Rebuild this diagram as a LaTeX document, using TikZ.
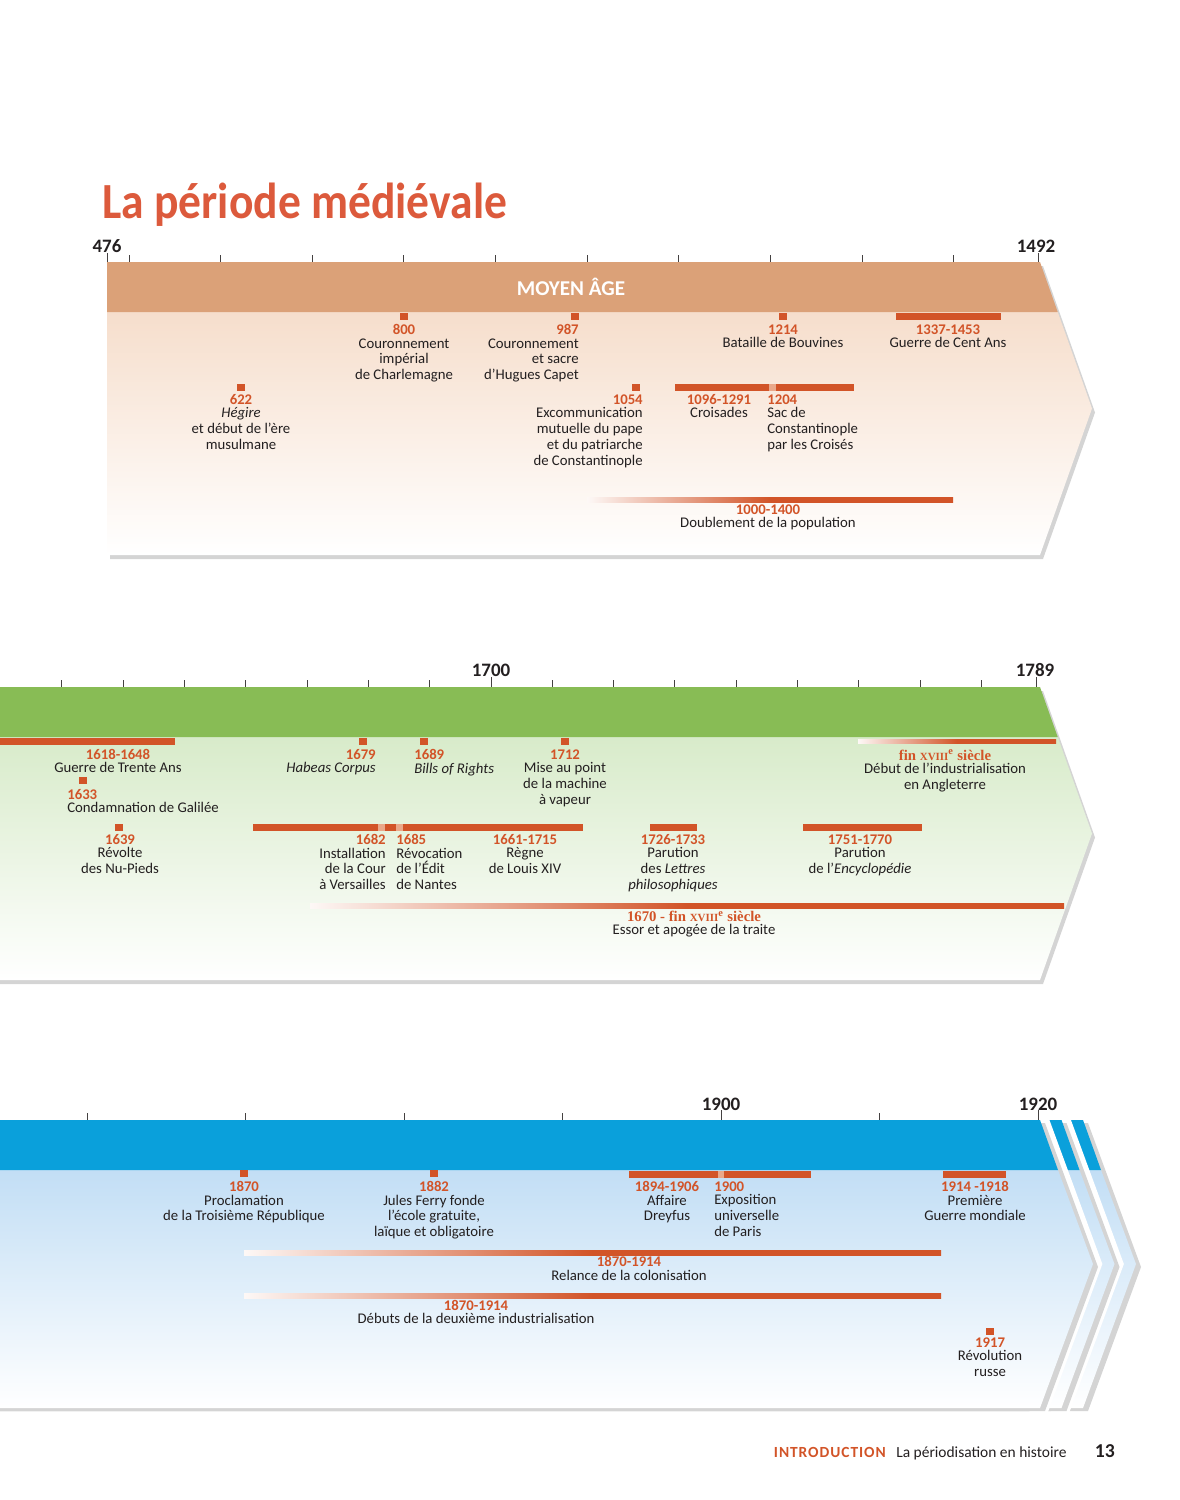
\documentclass[tikz,border=0pt]{standalone}
\usepackage{fontspec}
\setmainfont{Carlito}
\newfontfamily\titlefont{Carlito}[FakeStretch=0.9]
\newfontfamily\yrserif{Liberation Serif}
\usepackage{tikz}
\usetikzlibrary{shapes,arrows}

\definecolor{evorange}{RGB}{210,84,40}
\definecolor{evlight}{RGB}{234,168,138}
\colorlet{evfadelight}{evorange!4}
\definecolor{titleorange}{RGB}{220,90,60}
\definecolor{textblack}{RGB}{35,31,32}
\definecolor{medtan}{RGB}{219,161,120}
\definecolor{medbody}{RGB}{246,222,204}
\definecolor{modgreen}{RGB}{136,188,85}
\definecolor{modbody}{RGB}{216,235,202}
\definecolor{conblue}{RGB}{10,160,219}
\definecolor{conbody}{RGB}{194,222,245}

\pgfdeclarehorizontalshading{evfade}{100bp}{color(0bp)=(evfadelight); color(25bp)=(evfadelight); color(50bp)=(evorange); color(100bp)=(evorange)}

\tikzstyle{evmark} = [rectangle, fill=evorange, minimum size=5pt, inner sep=0pt]
\tikzstyle{evtext} = [inner sep=0pt, align=center, text=textblack, font=\fontsize{10.5}{11.3}\selectfont]
\tikzstyle{evfadebar} = [shading=evfade]
\tikzstyle{yrtick} = [draw=textblack!85, line width=0.6pt]
\tikzstyle{tickyr} = [inner sep=0pt, anchor=base, text=textblack, font=\fontsize{13.5}{14}\selectfont\bfseries]
\tikzstyle{shadow} = [fill=black!17]

\newcommand{\an}[1]{{\bfseries\color{evorange}#1}}
\newcommand{\anserif}[1]{{\yrserif\bfseries\color{evorange}#1}}
\newcommand{\xviii}{{\fontsize{7.8}{8}\selectfont XVIII}\textsuperscript{e}}

\begin{document}
\begin{tikzpicture}[x=0.025cm, y=-0.025cm]
	\useasboundingbox (0,0) rectangle (1179,1500);

	% title
	\node[anchor=base west, inner sep=0pt, text=titleorange, font=\titlefont\fontsize{36}{40}\selectfont\bfseries] (titre) at (102,218) {La période médiévale};

	% band 1: moyen age
	\fill[shadow] (110,266) -- (1043,266) -- (1095,412.5) -- (1043,559) -- (110,559) -- cycle;
	\shade[top color=medbody, bottom color=white] (107,312) -- (1057.7,312) -- (1092,408.5) -- (1040,555) -- (107,555) -- cycle;
	\fill[medtan] (107,262) -- (1040,262) -- (1057.7,312) -- (107,312) -- cycle;
	\node[text=white, font=\fontsize{15}{16}\selectfont\bfseries] (moyen) at (571,287) {MOYEN ÂGE};

	\foreach \y in {500,600,...,1400}
		\draw[yrtick] ({107+(\y-476)*0.9163},255) -- ++(0,7);
	\draw[yrtick] (107,253) -- (107,262);
	\draw[yrtick] (1038,253) -- (1038,262);
	\node[tickyr] (y476) at (107,252) {476};
	\node[tickyr] (y1492) at (1036,252) {1492};

	% events 1
	\node[evmark] (m800) at (404,316.5) {};
	\node[evtext, anchor=north] (t800) at (404,324.5) {\an{800}\\[-2pt]Couronnement\\impérial\\de Charlemagne};
	\node[evmark] (m987) at (575,316.5) {};
	\node[evtext, anchor=north east, align=right] (t987) at (579,324.5) {\an{987}\\[-2pt]Couronnement\\et sacre\\d’Hugues Capet};
	\node[evmark] (m1214) at (783,316.5) {};
	\node[evtext, anchor=north] (t1214) at (783,324.5) {\an{1214}\\[-2pt]Bataille de Bouvines};
	\fill[evorange] (896,313) rectangle (1001,319.5);
	\node[evtext, anchor=north] (t1337) at (948,324.5) {\an{1337-1453}\\[-2pt]Guerre de Cent Ans};

	\node[evmark] (m622) at (241,387.5) {};
	\node[evtext, anchor=north] (t622) at (241,394.5) {\an{622}\\[-2pt]\textit{Hégire}\\et début de l’ère\\musulmane};
	\node[evmark] (m1054) at (636,387.5) {};
	\node[evtext, anchor=north east, align=right] (t1054) at (643,394.5) {\an{1054}\\[-2pt]Excommunication\\mutuelle du pape\\et du patriarche\\de Constantinople};
	\fill[evorange] (675,384) rectangle (854,390.5);
	\fill[evlight] (769,384) rectangle (776,390.5);
	\node[evtext, anchor=north] (t1096) at (719,394.5) {\an{1096-1291}\\[-2pt]Croisades};
	\node[evtext, anchor=north west, align=left] (t1204) at (767,394.5) {\an{1204}\\[-2pt]Sac de\\Constantinople\\par les Croisés};

	\shade[evfadebar] (587,497.5) rectangle (953,502.5);
	\node[evtext, anchor=north] (t1000) at (768,504.5) {\an{1000-1400}\\[-2pt]Doublement de la population};

	% band 2: epoque moderne
	\fill[shadow] (0,691) -- (1043,691) -- (1095,837.5) -- (1043,984) -- (0,984) -- cycle;
	\shade[top color=modbody, bottom color=white] (0,737) -- (1057.7,737) -- (1092,833.5) -- (1040,980) -- (0,980) -- cycle;
	\fill[modgreen] (0,687) -- (1040,687) -- (1057.7,737) -- (0,737) -- cycle;

	\foreach \y in {1630,1640,...,1780}
		\draw[yrtick] ({491+(\y-1700)*6.13},680) -- ++(0,7);
	\draw[yrtick] (491,677) -- (491,687);
	\draw[yrtick] (1036,677) -- (1036,687);
	\node[tickyr] (y1700) at (491,676) {1700};
	\node[tickyr] (y1789) at (1035,676) {1789};

	% events 2
	\fill[evorange] (0,738) rectangle (175,744.5);
	\node[evtext, anchor=north] (t1618) at (118,749) {\an{1618-1648}\\[-2pt]Guerre de Trente Ans};
	\node[evmark] (m1633) at (83,780.5) {};
	\node[evtext, anchor=north west, align=left] (t1633) at (67,789.5) {\an{1633}\\[-2pt]Condamnation de Galilée};
	\node[evmark] (m1639) at (119,827.5) {};
	\node[evtext, anchor=north] (t1639) at (120,834.5) {\an{1639}\\[-2pt]Révolte\\des Nu-Pieds};
	\node[evmark] (m1679) at (363,741.5) {};
	\node[evtext, anchor=north east, align=right] (t1679) at (376,749.5) {\an{1679}\\[-2pt]\textit{Habeas Corpus}};
	\node[evmark] (m1689) at (424,741.5) {};
	\node[evtext, anchor=north west, align=left] (t1689) at (414,749.5) {\an{1689}\\[-2pt]\textit{Bills of Rights}};
	\node[evmark] (m1712) at (565,741.5) {};
	\node[evtext, anchor=north] (t1712) at (565,749.5) {\an{1712}\\[-2pt]Mise au point\\de la machine\\à vapeur};
	\shade[evfadebar] (858,739.5) rectangle (1056,743.5);
	\node[evtext, anchor=north] (t18e) at (945,749.5) {\anserif{fin \xviii\ siècle}\\[-2pt]Début de l’industrialisation\\en Angleterre};

	\fill[evorange] (253,824) rectangle (583,830.5);
	\fill[evlight] (378,824) rectangle (385,830.5);
	\fill[evlight] (396,824) rectangle (403,830.5);
	\node[evtext, anchor=north east, align=right] (t1682) at (386,834.5) {\an{1682}\\[-2pt]Installation\\de la Cour\\à Versailles};
	\node[evtext, anchor=north west, align=left] (t1685) at (396,834.5) {\an{1685}\\[-2pt]Révocation\\de l’Édit\\de Nantes};
	\node[evtext, anchor=north] (t1661) at (525,834.5) {\an{1661-1715}\\[-2pt]Règne\\de Louis XIV};
	\fill[evorange] (650,824) rectangle (697,830.5);
	\node[evtext, anchor=north] (t1726) at (673,834.5) {\an{1726-1733}\\[-2pt]Parution\\des \textit{Lettres}\\\textit{philosophiques}};
	\fill[evorange] (803,824) rectangle (922,830.5);
	\node[evtext, anchor=north] (t1751) at (860,834.5) {\an{1751-1770}\\[-2pt]Parution\\de l’\textit{Encyclopédie}};

	\shade[evfadebar] (310,903.5) rectangle (1064,908.5);
	\node[evtext, anchor=north] (t1670) at (694,911) {\anserif{1670 - fin \xviii\ siècle}\\[-2pt]Essor et apogée de la traite};

	% band 3: epoque contemporaine
	\foreach \o in {43,21.5,0} {
		\draw[white, line width=12.5pt] (1036.4+\o,1110) -- (1093+\o,1264) -- (1036.4+\o,1418);
		\fill[shadow] (0,1123) -- (1045+\o,1123) -- (1098+\o,1267) -- (1045+\o,1411) -- (0,1411) -- cycle;
		\shade[top color=conbody, bottom color=white] (0,1170) -- (1058+\o,1170) -- (1093+\o,1264) -- (1040+\o,1408) -- (0,1408) -- cycle;
		\fill[conblue] (0,1120) -- (1040+\o,1120) -- (1058+\o,1170) -- (0,1170) -- cycle;
	}

	\foreach \y in {1860,1870,1880,1890,1910}
		\draw[yrtick] ({721+(\y-1900)*15.85},1113) -- ++(0,7);
	\draw[yrtick] (721,1110) -- (721,1120);
	\draw[yrtick] (1038,1110) -- (1038,1120);
	\node[tickyr] (y1900) at (721,1110) {1900};
	\node[tickyr] (y1920) at (1038,1110) {1920};

	% events 3
	\node[evmark] (m1870) at (244,1173.5) {};
	\node[evtext, anchor=north] (t1870) at (244,1181.5) {\an{1870}\\[-2pt]Proclamation\\de la Troisième République};
	\node[evmark] (m1882) at (434,1173.5) {};
	\node[evtext, anchor=north] (t1882) at (434,1181.5) {\an{1882}\\[-2pt]Jules Ferry fonde\\l’école gratuite,\\laïque et obligatoire};
	\fill[evorange] (629,1171) rectangle (811,1177.5);
	\fill[evlight] (718,1171) rectangle (724,1177.5);
	\node[evtext, anchor=north] (t1894) at (667,1181.5) {\an{1894-1906}\\[-2pt]Affaire\\Dreyfus};
	\node[evtext, anchor=north west, align=left] (t1900) at (714,1181.5) {\an{1900}\\[-2pt]Exposition\\universelle\\de Paris};
	\fill[evorange] (943,1171) rectangle (1006,1177.5);
	\node[evtext, anchor=north] (t1914) at (975,1181.5) {\an{1914 -1918}\\[-2pt]Première\\Guerre mondiale};

	\shade[evfadebar] (244,1250) rectangle (941,1255);
	\node[evtext, anchor=north] (trelance) at (629,1256.5) {\an{1870-1914}\\[-2pt]Relance de la colonisation};
	\shade[evfadebar] (244,1293) rectangle (941,1298);
	\node[evtext, anchor=north] (tindus) at (476,1300) {\an{1870-1914}\\[-2pt]Débuts de la deuxième industrialisation};
	\node[evmark] (m1917) at (990,1331) {};
	\node[evtext, anchor=north] (t1917) at (990,1337.5) {\an{1917}\\[-2pt]Révolution\\russe};

	% footer
	\node[anchor=base east, inner sep=0pt, text=evorange, font=\fontsize{11}{13}\selectfont\bfseries\addfontfeature{LetterSpace=6}] (intro) at (886,1457) {INTRODUCTION};
	\node[anchor=base west, inner sep=0pt, text=textblack, font=\fontsize{11}{13}\selectfont] (rubrique) at (896,1457) {La périodisation en histoire};
	\node[anchor=base east, inner sep=0pt, text=textblack, font=\fontsize{14}{16}\selectfont\bfseries] (page) at (1115,1457) {13};

\end{tikzpicture}
\end{document}
